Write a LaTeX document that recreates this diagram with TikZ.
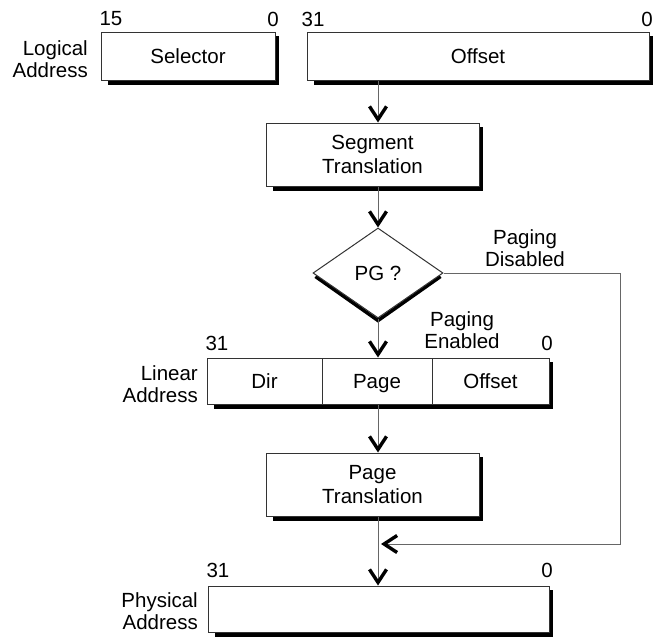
\documentclass[tikz,border=0pt]{standalone}
\usepackage{fontspec}
\setmainfont{Liberation Sans}
\usetikzlibrary{shapes.geometric,arrows.meta,backgrounds}

\begin{document}
\begin{tikzpicture}[x=1pt,y=-1pt,
	font=\fontsize{20.5}{22}\selectfont,
	box/.style={draw=black!80,line width=1pt,fill=white,inner sep=0pt},
	cell/.style={box,text height=14.7pt,text depth=0pt},
	twoline/.style={box,align=center,font=\fontsize{20.5}{24}\selectfont},
	lbl/.style={inner sep=0pt,align=right,anchor=east},
	bit/.style={inner sep=0pt},
	arr/.style={draw=black!60,line width=1pt,-{Straight Barb[length=13pt,width=17pt,line width=3.4pt,sharp,black]}}]
	\useasboundingbox (0,0) rectangle (653,637);
	\node[cell,minimum width=174pt,minimum height=48pt] (sel) at (188,56) {Selector};
	\node[cell,minimum width=342pt,minimum height=48pt] (off) at (478,56) {Offset};
	\node[twoline,minimum width=213pt,minimum height=63pt] (seg) at (372.5,154.5) {Segment\\Translation};
	\node[box,diamond,minimum width=130pt,minimum height=90pt] (pg) at (378,273) {PG ?};
	\node[cell,minimum width=115pt,minimum height=46pt] (ldir) at (264.5,381) {Dir};
	\node[cell,minimum width=110pt,minimum height=46pt] (lpage) at (377,381) {Page};
	\node[cell,minimum width=117pt,minimum height=46pt] (loff) at (490.5,381) {Offset};
	\node[twoline,minimum width=213pt,minimum height=63pt] (pgt) at (372.5,484.5) {Page\\Translation};
	\node[cell,minimum width=341pt,minimum height=46pt] (phys) at (378.5,609) {};
	\begin{scope}[on background layer]
		\foreach \n in {sel,off,seg,pgt,phys} {
			\fill ([xshift=7pt]\n.south west) rectangle ([xshift=3pt,yshift=-4pt]\n.south east);
			\fill ([yshift=-4pt]\n.north east) rectangle ([xshift=3pt,yshift=-4pt]\n.south east);
		}
		\fill ([xshift=7pt]ldir.south west) rectangle ([xshift=3pt,yshift=-4pt]loff.south east);
		\fill ([yshift=-4pt]loff.north east) rectangle ([xshift=3pt,yshift=-4pt]loff.south east);
		\draw[line width=3.5pt,line join=miter] ([xshift=3pt,yshift=-3.5pt]pg.west) -- ([yshift=-2pt]pg.south) -- ([xshift=-3pt,yshift=-3.5pt]pg.east);
	\end{scope}
	\node[lbl] (logl) at (88,59) {Logical\\Address};
	\node[lbl] (linl) at (198,384) {Linear\\Address};
	\node[lbl] (phyl) at (198,611) {Physical\\Address};
	\node[bit] (s15) at (111,19) {15};
	\node[bit] (s0) at (273,19) {0};
	\node[bit] (o31) at (313,19) {31};
	\node[bit] (o0) at (647,19) {0};
	\node[bit] (l31) at (217,343) {31};
	\node[bit] (l0) at (547,343) {0};
	\node[bit] (p31) at (218,570) {31};
	\node[bit] (p0) at (547,570) {0};
	\node[inner sep=0pt,align=center] (dis) at (525,248) {Paging\\Disabled};
	\node[inner sep=0pt,align=center] (ena) at (462,330) {Paging\\Enabled};
	\coordinate (turn) at (620,544);
	\coordinate (merge) at (381,544);
	\draw[arr] (off.south -| pg.north) -- (seg.north -| pg.north);
	\draw[arr] (seg.south -| pg.north) -- (pg.north);
	\draw[arr] (pg.south) -- (lpage.north -| pg.south);
	\draw[arr] (lpage.south -| pg.south) -- (pgt.north -| pg.south);
	\draw[arr] (pgt.south -| pg.south) -- (phys.north -| pg.south);
	\draw[arr] (pg.east) -| (turn) -- (merge);
\end{tikzpicture}
\end{document}
